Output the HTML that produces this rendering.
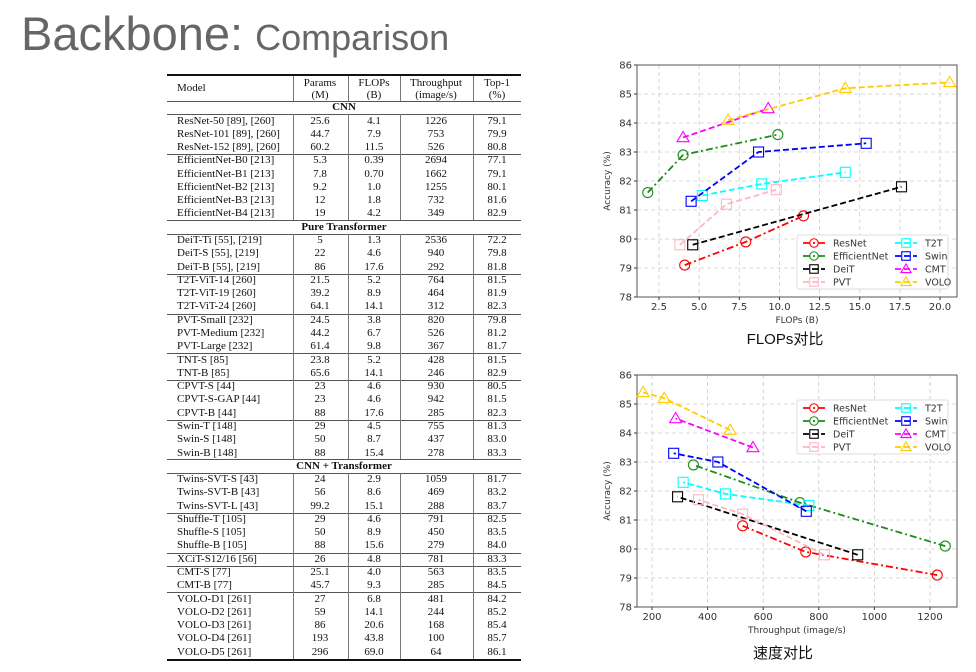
<!DOCTYPE html>
<html><head><meta charset="utf-8">
<style>
body{margin:0;width:976px;height:672px;background:#fff;position:relative;overflow:hidden;font-family:"Liberation Sans",sans-serif}
#title{position:absolute;left:21px;top:6px;color:#666;white-space:nowrap}
#title .a{font-size:47px}
#title .b{font-size:36px;margin-left:12px}
.tc{position:absolute;font-family:"Liberation Serif",serif;font-size:11px;color:#111;line-height:13px;white-space:nowrap}
.hl{position:absolute;background:#555;height:1px}
.vl{position:absolute;background:#777;width:1px}
svg{position:absolute;left:0;top:0}
</style></head><body>
<div id="title"><span class="a">Backbone:</span><span class="b">Comparison</span></div>
<div id="table"></div>
<svg id="charts" width="976" height="672"></svg>
<script>
const rows=[
["S","CNN"],
["ResNet-50 [89], [260]","25.6","4.1","1226","79.1"],
["ResNet-101 [89], [260]","44.7","7.9","753","79.9"],
["ResNet-152 [89], [260]","60.2","11.5","526","80.8"],
["G"],
["EfficientNet-B0 [213]","5.3","0.39","2694","77.1"],
["EfficientNet-B1 [213]","7.8","0.70","1662","79.1"],
["EfficientNet-B2 [213]","9.2","1.0","1255","80.1"],
["EfficientNet-B3 [213]","12","1.8","732","81.6"],
["EfficientNet-B4 [213]","19","4.2","349","82.9"],
["S","Pure Transformer"],
["DeiT-Ti [55], [219]","5","1.3","2536","72.2"],
["DeiT-S [55], [219]","22","4.6","940","79.8"],
["DeiT-B [55], [219]","86","17.6","292","81.8"],
["G"],
["T2T-ViT-14 [260]","21.5","5.2","764","81.5"],
["T2T-ViT-19 [260]","39.2","8.9","464","81.9"],
["T2T-ViT-24 [260]","64.1","14.1","312","82.3"],
["G"],
["PVT-Small [232]","24.5","3.8","820","79.8"],
["PVT-Medium [232]","44.2","6.7","526","81.2"],
["PVT-Large [232]","61.4","9.8","367","81.7"],
["G"],
["TNT-S [85]","23.8","5.2","428","81.5"],
["TNT-B [85]","65.6","14.1","246","82.9"],
["G"],
["CPVT-S [44]","23","4.6","930","80.5"],
["CPVT-S-GAP [44]","23","4.6","942","81.5"],
["CPVT-B [44]","88","17.6","285","82.3"],
["G"],
["Swin-T [148]","29","4.5","755","81.3"],
["Swin-S [148]","50","8.7","437","83.0"],
["Swin-B [148]","88","15.4","278","83.3"],
["S","CNN + Transformer"],
["Twins-SVT-S [43]","24","2.9","1059","81.7"],
["Twins-SVT-B [43]","56","8.6","469","83.2"],
["Twins-SVT-L [43]","99.2","15.1","288","83.7"],
["G"],
["Shuffle-T [105]","29","4.6","791","82.5"],
["Shuffle-S [105]","50","8.9","450","83.5"],
["Shuffle-B [105]","88","15.6","279","84.0"],
["G"],
["XCiT-S12/16 [56]","26","4.8","781","83.3"],
["G"],
["CMT-S [77]","25.1","4.0","563","83.5"],
["CMT-B [77]","45.7","9.3","285","84.5"],
["G"],
["VOLO-D1 [261]","27","6.8","481","84.2"],
["VOLO-D2 [261]","59","14.1","244","85.2"],
["VOLO-D3 [261]","86","20.6","168","85.4"],
["VOLO-D4 [261]","193","43.8","100","85.7"],
["VOLO-D5 [261]","296","69.0","64","86.1"]
];
const headers=[["Model",""],["Params","(M)"],["FLOPs","(B)"],["Throughput","(image/s)"],["Top-1","(%)"]];
const T=document.getElementById('table');
const TL=167,TR=521,colX=[293,348,400,473],colC=[177,320,374,436,497],RH=13.28;
function cell(txt,x,y,center,bold){const d=document.createElement('div');d.className='tc';d.textContent=txt;


d.style.top=(y-6.5)+'px';if(center){d.style.left=(x-50)+'px';d.style.width='100px';d.style.textAlign='center';}else d.style.left=x+'px';
if(bold)d.style.fontWeight='bold';T.appendChild(d);}
function hline(y,w){const d=document.createElement('div');d.className='hl';


d.style.left=TL+'px';d.style.width=(TR-TL)+'px';d.style.top=y+'px';d.style.height=(w||1)+'px';d.style.background=w>1?'#111':'#555';T.appendChild(d);}
function vline(y1,y2){colX.forEach(x=>{const d=document.createElement('div');d.className='vl';


d.style.left=x+'px';d.style.top=y1+'px';d.style.height=(y2-y1)+'px';T.appendChild(d);});}
hline(74,2);
headers.forEach((h,i)=>{if(i==0)cell(h[0],177,88,false);else{cell(h[0],colC[i],83,true);cell(h[1],colC[i],95,true);}});
vline(76,101);
hline(101,1);
let idx=-1;
rows.forEach(r=>{
 if(r[0]==="G"){hline(121+(idx-0.5)*RH,1);return;}
 idx++;const y=121+(idx-1)*RH;
 if(r[0]==="S"){cell(r[1],(TL+TR)/2,y,true,true);hline(y+6.5,1);if(idx>0)hline(y-6.8,1);return;}
 cell(r[0],177,y,false);
 for(let k=1;k<5;k++)cell(r[k],colC[k],y,true);
 vline(y-6.6,y+6.7);
});
hline(121+(idx-0.5)*RH,2);

// ---------------- charts -----------------
const seriesNames=["ResNet","EfficientNet","DeiT","PVT","T2T","Swin","CMT","VOLO"];
const seriesColors=["#ff0000","#1a8c1a","#000000","#ffb6c1","#00ffff","#0000ff","#ff00ff","#ffcc00"];
const seriesMarkers=["o","o","s","s","s","s","t","t"];
const seriesDash=["7,3,2,3","7,3,2,3","6,3","6,3","6,3","6,3","6,3","6,3"];
const accResNet=[79.1,79.9,80.8], flopsResNet=[4.1,7.9,11.5], thrResNet=[1226,753,526];
const accEff=[81.6,82.9,83.6], flopsEff=[1.8,4.0,9.9], accEffT=[80.1,81.6,82.9], thrEff=[1255,732,349];
const accDeiT=[79.8,81.8], flopsDeiT=[4.6,17.6], thrDeiT=[940,292];
const accPVT=[79.8,81.2,81.7], flopsPVT=[3.8,6.7,9.8], thrPVT=[820,526,367];
const accT2T=[81.5,81.9,82.3], flopsT2T=[5.2,8.9,14.1], thrT2T=[764,464,312];
const accSwin=[81.3,83.0,83.3], flopsSwin=[4.5,8.7,15.4], thrSwin=[755,437,278];
const accCMT=[83.5,84.5], flopsCMT=[4.0,9.3], thrCMT=[563,285];
const accVOLO=[84.1,85.2,85.4], flopsVOLO=[6.8,14.1,20.6], thrVOLO=[481,244,168];
const flopsTicks=[2.5,5.0,7.5,10.0,12.5,15.0,17.5,20.0];
const thrTicks=[200,400,600,800,1000,1200];
const accTicks=[78,79,80,81,82,83,84,85,86];

const S=document.getElementById('charts');const NS="http://www.w3.org/2000/svg";
function el(tag,attrs,parent){const e=document.createElementNS(NS,tag);for(const k in attrs)e.setAttribute(k,attrs[k]);(parent||S).appendChild(e);return e;}

function chart(cfg){
 const g=el('g',{});
 
 
 const L=637,R=957,Tp=cfg.top,B=cfg.top+232;
 const xs=v=>cfg.x0px+(v-cfg.x0)*cfg.xk;
 const ys=v=>B-(v-78)*(B-Tp)/8;
 cfg.xticks.forEach(t=>{const x=xs(t);
  el('line',{x1:x,x2:x,y1:Tp,y2:B,stroke:'#ccc','stroke-dasharray':'4,3','stroke-width':0.8},g);
  el('line',{x1:x,x2:x,y1:B,y2:B+3,stroke:'#333'},g);
  const t2=el('text',{x:x,y:B+13,'text-anchor':'middle','font-size':10,fill:'#333','font-family':'DejaVu Sans, sans-serif'},g);
  t2.textContent=cfg.fmt(t);
  
  });
 accTicks.forEach(t=>{const y=ys(t);
  el('line',{x1:L,x2:R,y1:y,y2:y,stroke:'#ccc','stroke-dasharray':'4,3','stroke-width':0.8},g);
  el('line',{x1:L-3,x2:L,y1:y,y2:y,stroke:'#333'},g);
  const t2=el('text',{x:L-5,y:y+3.5,'text-anchor':'end','font-size':10,fill:'#333','font-family':'DejaVu Sans, sans-serif'},g);
  t2.textContent=t;
  
  });
 el('rect',{x:L,y:Tp,width:R-L,height:B-Tp,fill:'none',stroke:'#555','stroke-width':1},g);
 const xt=el('text',{x:(L+R)/2,y:B+26,'text-anchor':'middle','font-size':9,fill:'#333','font-family':'DejaVu Sans, sans-serif'},g);
 xt.textContent=cfg.xlabel;
 
 
 const yt=el('text',{x:0,y:0,'text-anchor':'middle','font-size':9,fill:'#333','font-family':'DejaVu Sans, sans-serif',transform:`translate(${L-27},${(Tp+B)/2}) rotate(-90)`},g);
 yt.textContent='Accuracy (%)';
 
 
 cfg.series.forEach((s,i)=>{
  const sg=el('g',{},g);
  
  
  const pts=s.x.map((v,j)=>[xs(v),ys(s.y[j])]);
  el('polyline',{points:pts.map(p=>p.join(',')).join(' '),fill:'none',stroke:seriesColors[i],'stroke-width':1.8,'stroke-dasharray':seriesDash[i]},sg);
  pts.forEach(p=>{const m=marker(seriesMarkers[i],p[0],p[1],seriesColors[i],sg);
   
   });
 });
 const lg=el('g',{},g);
 
 
 const lx=cfg.legX,ly=cfg.legY;
 el('rect',{x:lx,y:ly,width:151,height:54,fill:'#fff',stroke:'#ddd',rx:2},lg);
 seriesNames.forEach((n,i)=>{const col=i<4?0:1,row=i%4;const x=lx+6+col*92,y=ly+8+row*13;
  const e=el('g',{},lg);
  
  
  el('line',{x1:x,x2:x+22,y1:y,y2:y,stroke:seriesColors[i],'stroke-width':1.8,'stroke-dasharray':seriesDash[i]},e);
  marker(seriesMarkers[i],x+11,y,seriesColors[i],e,0.85);
  const t=el('text',{x:x+30,y:y+3.5,'font-size':9.5,fill:'#333','font-family':'DejaVu Sans, sans-serif'},e);t.textContent=n;});
}
function marker(type,x,y,c,p,sc){sc=sc||1;
 if(type==='o')return el('circle',{cx:x,cy:y,r:5*sc,fill:'none',stroke:c,'stroke-width':1.1},p);
 if(type==='s')return el('rect',{x:x-5*sc,y:y-5*sc,width:10*sc,height:10*sc,fill:'none',stroke:c,'stroke-width':1.1},p);
 const r=6*sc;return el('polygon',{points:`${x},${y-r} ${x-r},${y+r*0.7} ${x+r},${y+r*0.7}`,fill:'none',stroke:c,'stroke-width':1.1},p);}

chart({name:'flops-chart',top:65,x0:2.5,x0px:659,xk:16.06,xticks:flopsTicks,fmt:t=>t.toFixed(1),xlabel:'FLOPs (B)',legX:797,legY:235,
 series:[{x:flopsResNet,y:accResNet},{x:flopsEff,y:accEff},{x:flopsDeiT,y:accDeiT},{x:flopsPVT,y:accPVT},{x:flopsT2T,y:accT2T},{x:flopsSwin,y:accSwin},{x:flopsCMT,y:accCMT},{x:flopsVOLO,y:accVOLO}]});
chart({name:'throughput-chart',top:375,x0:200,x0px:652,xk:0.278,xticks:thrTicks,fmt:t=>String(t),xlabel:'Throughput (image/s)',legX:797,legY:400,
 series:[{x:thrResNet,y:accResNet},{x:thrEff,y:accEffT},{x:thrDeiT,y:accDeiT},{x:thrPVT,y:accPVT},{x:thrT2T,y:accT2T},{x:thrSwin,y:accSwin},{x:thrCMT,y:accCMT},{x:thrVOLO,y:accVOLO}]});
</script>
<svg width="976" height="672" style="pointer-events:none">
<text x="785" y="344" text-anchor="middle" font-size="15" fill="#111" font-family="Liberation Sans, Noto Sans CJK SC, sans-serif">FLOPs对比</text>
<text x="783" y="658" text-anchor="middle" font-size="15" fill="#111" font-family="Liberation Sans, Noto Sans CJK SC, sans-serif">速度对比</text>
</svg>
</body></html>
